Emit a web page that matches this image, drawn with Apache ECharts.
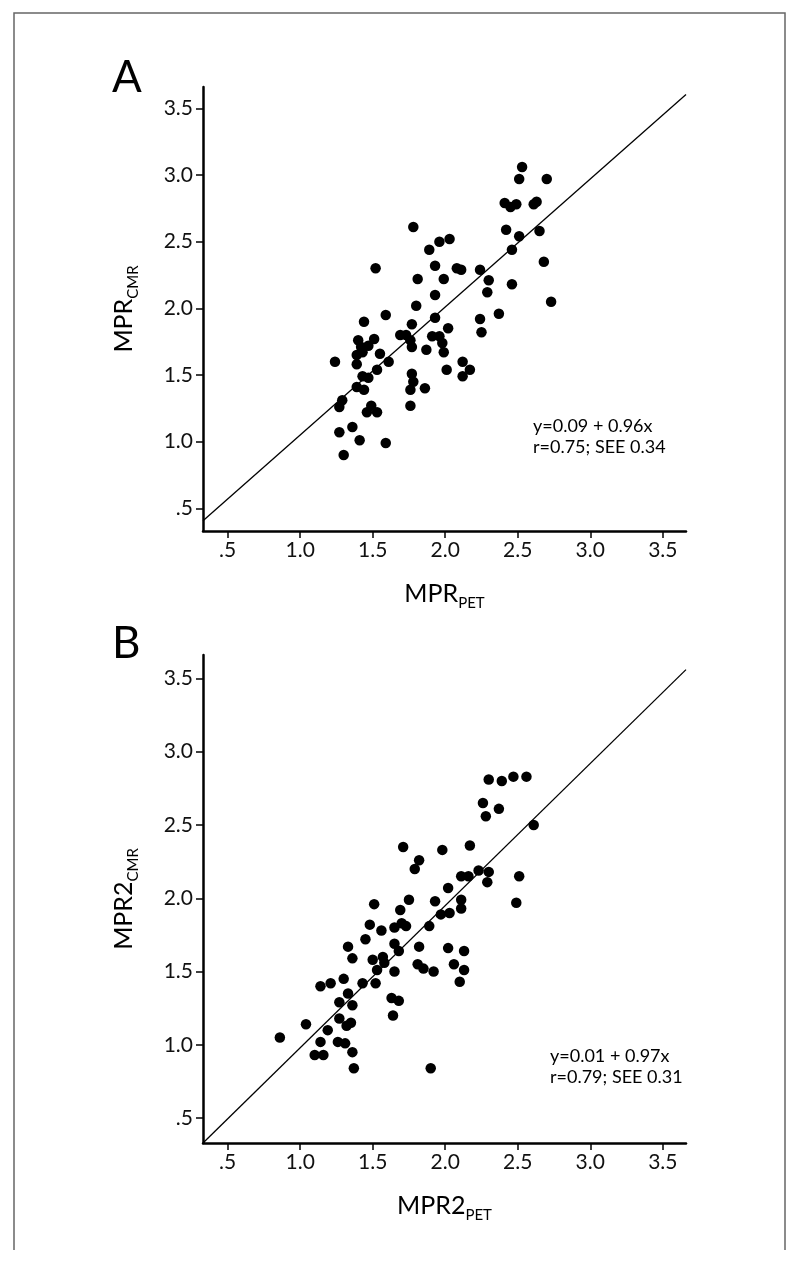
<!DOCTYPE html>
<html>
<head>
<meta charset="utf-8">
<script src="https://cdn.jsdelivr.net/npm/echarts@6/dist/echarts.min.js"></script>
<style>
html,body{margin:0;padding:0;background:#fff;}
#chart{width:800px;height:1262px;}
</style>
</head>
<body>
<div id="chart"></div>
<script>
// ---- Panel A data (MPR_PET vs MPR_CMR) ----
const petA = [1.78,1.96,2.03,1.89,1.52,1.93,2.08,2.11,2.24,1.81,1.99,2.30,1.93,2.29,1.80,1.59,2.37,1.44,1.93,2.24,2.25,1.77,2.02,1.40,1.51,1.69,1.73,1.76,1.91,1.96,1.42,1.47,1.39,1.43,1.55,1.77,1.87,1.98,1.99,1.24,1.39,1.61,1.53,1.43,1.47,1.77,1.78,1.76,2.01,2.12,2.17,2.12,1.39,1.44,1.86,1.29,1.27,1.49,1.46,1.53,1.76,1.27,1.36,1.41,1.59,1.30,2.53,2.51,2.70,2.41,2.45,2.49,2.61,2.63,2.42,2.51,2.65,2.46,2.68,2.46,2.73];
const cmrA = [2.61,2.50,2.52,2.44,2.30,2.32,2.30,2.29,2.29,2.22,2.22,2.21,2.10,2.12,2.02,1.95,1.96,1.90,1.93,1.92,1.82,1.88,1.85,1.76,1.77,1.80,1.80,1.76,1.79,1.79,1.71,1.72,1.65,1.67,1.66,1.71,1.69,1.74,1.67,1.60,1.58,1.60,1.54,1.49,1.48,1.51,1.45,1.39,1.54,1.60,1.54,1.49,1.41,1.39,1.40,1.31,1.26,1.27,1.22,1.22,1.27,1.07,1.11,1.01,0.99,0.90,3.06,2.97,2.97,2.79,2.76,2.78,2.78,2.80,2.59,2.54,2.58,2.44,2.35,2.18,2.05];
// ---- Panel B data (MPR2_PET vs MPR2_CMR) ----
const petB = [1.71,1.98,1.82,1.79,1.51,1.75,1.69,1.93,2.02,1.97,2.03,1.48,1.56,1.65,1.70,1.73,1.89,1.45,1.33,1.36,1.65,1.68,1.82,2.02,1.50,1.57,1.58,1.53,1.65,1.81,1.85,1.92,1.14,1.21,1.30,1.43,1.52,1.33,1.27,1.36,1.63,1.68,1.64,1.04,1.27,1.32,1.35,1.19,0.86,1.14,1.26,1.31,1.36,1.10,1.16,1.37,1.90,2.30,2.39,2.47,2.56,2.26,2.37,2.28,2.61,2.17,2.23,2.11,2.16,2.30,2.29,2.51,2.11,2.11,2.49,2.13,2.06,2.13,2.10];
const cmrB = [2.35,2.33,2.26,2.20,1.96,1.99,1.92,1.98,2.07,1.89,1.90,1.82,1.78,1.80,1.83,1.81,1.81,1.72,1.67,1.59,1.69,1.64,1.67,1.66,1.58,1.60,1.56,1.51,1.50,1.55,1.52,1.50,1.40,1.42,1.45,1.42,1.42,1.35,1.29,1.27,1.32,1.30,1.20,1.14,1.18,1.13,1.15,1.10,1.05,1.02,1.02,1.01,0.95,0.93,0.93,0.84,0.84,2.81,2.80,2.83,2.83,2.65,2.61,2.56,2.50,2.36,2.19,2.15,2.15,2.18,2.11,2.15,1.99,1.93,1.97,1.64,1.55,1.51,1.43];
// ---- Axes / ticks ----
const axisRange = [0.33, 3.66];
const tickValues = [0.5, 1.0, 1.5, 2.0, 2.5, 3.0, 3.5];
const tickLabels = ['.5', '1.0', '1.5', '2.0', '2.5', '3.0', '3.5'];
// ---- Regression fits ----
const fitIntercepts = [0.09, 0.01];
const fitSlopes = [0.96, 0.97];
const fitTexts = ['y=0.09 + 0.96x\nr=0.75; SEE 0.34', 'y=0.01 + 0.97x\nr=0.79; SEE 0.31'];
const panelLetters = ['A', 'B'];
const xNames = [['MPR', 'PET'], ['MPR2', 'PET']];
const yNames = [['MPR', 'CMR'], ['MPR2', 'CMR']];

const FONT = 'Lato, "Open Sans", sans-serif';
const fmt = v => {
  const i = tickValues.findIndex(t => Math.abs(t - v) < 1e-6);
  return i >= 0 ? tickLabels[i] : '';
};
const nameRich = {
  m: { fontSize: 25, lineHeight: 30, color: '#000', fontFamily: FONT },
  s: { fontSize: 15, lineHeight: 16, padding: [18, 0, 0, 0], color: '#000', fontFamily: FONT }
};
function mkX(i) {
  return {
    type: 'value', gridIndex: i, min: axisRange[0], max: axisRange[1],
    name: '{m|' + xNames[i][0] + '}{s|' + xNames[i][1] + '}',
    nameLocation: 'middle', nameGap: 48,
    nameTextStyle: { rich: nameRich },
    splitLine: { show: false },
    axisLine: { show: true, onZero: false, lineStyle: { color: '#000', width: 2.5 } },
    axisTick: { show: true, customValues: tickValues, length: 7, lineStyle: { color: '#000', width: 1.5 } },
    axisLabel: { customValues: tickValues, formatter: fmt, fontSize: 21, color: '#111', fontFamily: FONT, margin: 9 }
  };
}
function mkY(i) {
  return {
    type: 'value', gridIndex: i, min: axisRange[0], max: axisRange[1],
    name: '{m|' + yNames[i][0] + '}{s|' + yNames[i][1] + '}',
    nameLocation: 'middle', nameGap: 64, nameRotate: 90,
    nameTextStyle: { rich: nameRich },
    splitLine: { show: false },
    axisLine: { show: true, onZero: false, lineStyle: { color: '#000', width: 2.5 } },
    axisTick: { show: true, customValues: tickValues, length: 7, lineStyle: { color: '#000', width: 1.5 } },
    axisLabel: { customValues: tickValues, formatter: fmt, fontSize: 21, color: '#111', fontFamily: FONT, margin: 10 }
  };
}
function scatter(i, xs, ys) {
  return {
    type: 'scatter', xAxisIndex: i, yAxisIndex: i,
    data: xs.map((x, k) => [x, ys[k]]),
    symbolSize: 10.5, itemStyle: { color: '#000', opacity: 1 }, silent: true, z: 3
  };
}
function fitLine(i) {
  const a = fitIntercepts[i], b = fitSlopes[i];
  return {
    type: 'line', xAxisIndex: i, yAxisIndex: i, symbol: 'none', silent: true,
    data: [[axisRange[0], a + b * axisRange[0]], [axisRange[1], a + b * axisRange[1]]],
    lineStyle: { color: '#000', width: 1.3 }, z: 2
  };
}

const chart = echarts.init(document.getElementById('chart'), null, { renderer: 'canvas' });
chart.setOption({
  backgroundColor: '#fff',
  animation: false,
  grid: [
    { left: 203, top: 87, width: 483, height: 444 },
    { left: 203, top: 655, width: 483, height: 488 }
  ],
  xAxis: [mkX(0), mkX(1)],
  yAxis: [mkY(0), mkY(1)],
  series: [scatter(0, petA, cmrA), fitLine(0), scatter(1, petB, cmrB), fitLine(1)],
  graphic: [
    { type: 'polyline', shape: { points: [[14, 1250], [14, 13], [785, 13], [785, 1250]] },
      style: { stroke: '#666', lineWidth: 1.5, fill: null }, silent: true },
    { type: 'text', left: 112, top: 56, style: { text: panelLetters[0], fontSize: 44, fontFamily: FONT, fill: '#000' } },
    { type: 'text', left: 112, top: 622, style: { text: panelLetters[1], fontSize: 44, fontFamily: FONT, fill: '#000' } },
    { type: 'text', left: 533, top: 415, style: { text: fitTexts[0], fontSize: 18, lineHeight: 21.5, fontFamily: FONT, fill: '#000' } },
    { type: 'text', left: 550, top: 1045, style: { text: fitTexts[1], fontSize: 18, lineHeight: 21.5, fontFamily: FONT, fill: '#000' } }
  ]
});
</script>
</body>
</html>
